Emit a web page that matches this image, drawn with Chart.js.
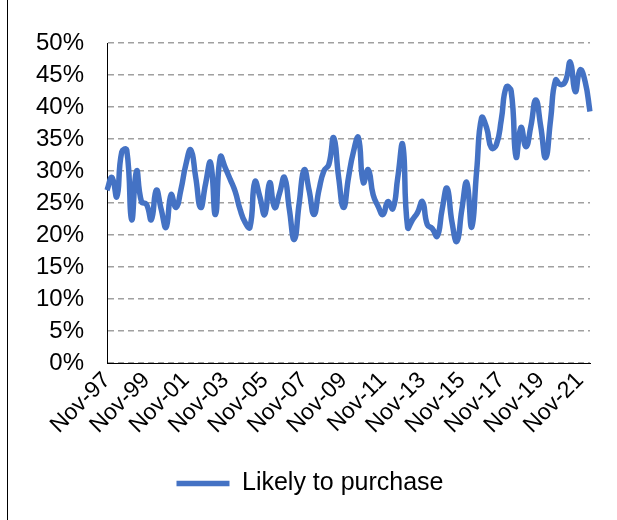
<!DOCTYPE html>
<html>
<head>
<meta charset="utf-8">
<script src="https://cdn.jsdelivr.net/npm/chart.js@4"></script>
<style>
  body { margin: 0; background: #fff; }
  #wrap { position: relative; width: 617px; height: 520px; }
  #edge { position: absolute; left: 7px; top: 0; width: 1px; height: 520px; background: #000; }
</style>
</head>
<body>
<div id="wrap">
  <canvas id="chart" width="617" height="520"></canvas>
  <div id="edge"></div>
</div>
<script>
// quarterly survey, Nov-97 .. May-22
const quarterMonths = ['Nov', 'Feb', 'May', 'Aug'];
const startYear = 1997;
const seriesName = 'Likely to purchase';
const likely = [
  27, 29, 26, 33, 33.3, 22.4, 30, 25.2, 24.8, 22.4,
  27, 24, 21.2, 26.3, 24.3, 27.1, 31, 33.3, 29, 24.3,
  28, 31.3, 23.2, 32.2, 30.5, 28.7, 26.8, 24, 22, 21.2,
  28.3, 26, 23.2, 28.2, 24.3, 26.5, 29, 24, 19.3, 25,
  30.2, 27, 23.2, 27, 30, 31, 35.2, 29, 24.3, 29,
  33, 35.2, 28.2, 30.2, 26.3, 24.5, 23.2, 25.2, 24.1, 29,
  34.1, 21.2, 22.4, 23.5, 25.2, 21.6, 21, 19.8, 24, 27.3,
  22, 19, 24, 28.2, 21.2, 30, 38.3, 36.8, 33.6, 34.1,
  38, 43.1, 42.5, 32.2, 36.8, 33.8, 37, 41.1, 37, 32.1,
  38, 44.2, 43.5, 44, 47, 42.4, 45.8, 44, 39.3
];

const labels = [];
for (let i = 0; i < likely.length; i++) {
  const m = quarterMonths[i % 4];
  const yr = startYear + Math.floor((i + 3) / 4);
  labels.push(m + '-' + String(yr % 100).padStart(2, '0'));
}

const family = 'Liberation Sans, Arial, sans-serif';

new Chart(document.getElementById('chart'), {
  type: 'line',
  data: {
    labels: labels,
    datasets: [{
      label: seriesName,
      data: likely,
      borderColor: '#4472C4',
      backgroundColor: '#4472C4',
      borderWidth: 5.5,
      pointRadius: 0,
      pointStyle: 'line',
      tension: 0.5,
      fill: false,
    }],
  },
  options: {
    responsive: false,
    animation: false,
    // left padding nudges the legend right; y scale width keeps plot at x=107
    layout: { padding: { left: 30, right: 27, top: 43, bottom: 14 } },
    plugins: {
      tooltip: { enabled: false },
      legend: {
        position: 'bottom',
        labels: {
          color: '#000',
          font: { family: family, size: 25 },
          usePointStyle: true,
          pointStyle: 'line',
          pointStyleWidth: 53,
          padding: 10,
        },
      },
    },
    scales: {
      x: {
        grid: { display: false, drawTicks: false },
        border: { color: '#000', width: 1 },
        ticks: {
          color: '#000',
          font: { family: family, size: 23 },
          autoSkip: false,
          minRotation: 45,
          maxRotation: 45,
          padding: 4,
          callback: function (v, i) { return i % 8 === 0 ? labels[i] : ''; },
        },
        afterFit: function (scale) { scale.height = 98; },
      },
      y: {
        min: 0,
        max: 50,
        grid: { color: '#A0A0A0', drawTicks: false, lineWidth: 1.5 },
        border: { color: '#000', width: 1, dash: [6, 4] },
        ticks: {
          color: '#000',
          font: { family: family, size: 24 },
          stepSize: 5,
          padding: 23,
          callback: function (v) { return v + '%'; },
        },
        afterFit: function (scale) { scale.width = 77; },
      },
    },
  },
});
</script>
</body>
</html>
